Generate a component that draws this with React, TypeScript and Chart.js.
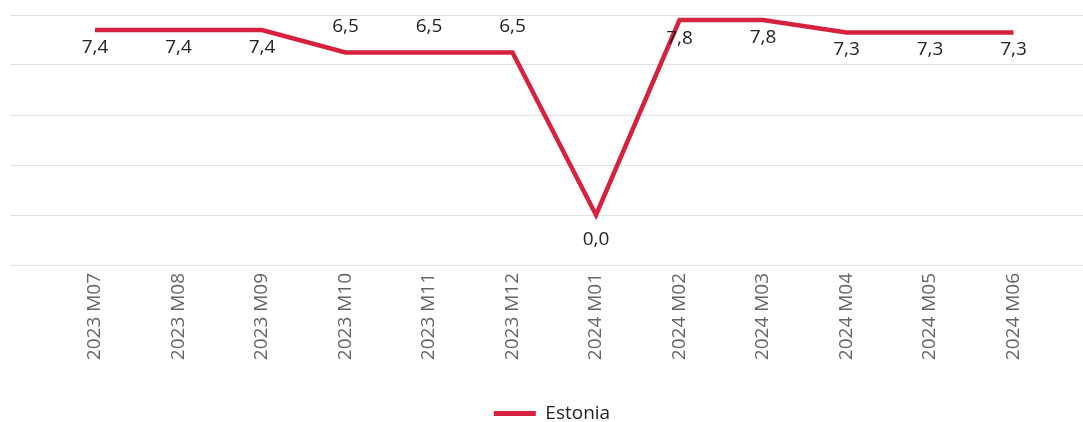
import React, { useEffect, useRef } from "react";
import { Chart, registerables } from "chart.js";

Chart.register(...registerables);

const categories: string[] = [
  "2023 M07", "2023 M08", "2023 M09", "2023 M10", "2023 M11", "2023 M12",
  "2024 M01", "2024 M02", "2024 M03", "2024 M04", "2024 M05", "2024 M06",
];
const seriesName = "Estonia";
const estoniaValues: number[] = [7.4, 7.4, 7.4, 6.5, 6.5, 6.5, 0.0, 7.8, 7.8, 7.3, 7.3, 7.3];
const yTicks: number[] = [-2, 0, 2, 4, 6, 8];

// style: vertical offset of each data label from its point (px)
const labelOffsets: number[] = [16, 16, 16, -27, -27, -27, 23, 17, 16, 16, 16, 16];

const RED = "#D6223F";
const FONT = "'Open Sans', 'Noto Sans', sans-serif";
const FS = 19;

const dataLabelPlugin = {
  id: "dataLabels",
  afterDatasetsDraw(chart: any) {
    const meta = chart.getDatasetMeta(0);
    const ctx = chart.ctx;
    ctx.save();
    ctx.font = `${FS}px ${FONT}`;
    ctx.fillStyle = "#252423";
    ctx.textAlign = "center";
    ctx.textBaseline = "alphabetic";
    meta.data.forEach((el: any, i: number) => {
      const v = estoniaValues[i];
      const txt = v.toFixed(1).replace(".", ",");
      const cy = el.y + labelOffsets[i];
      ctx.fillText(txt, el.x, cy + 0.357 * FS);
    });
    ctx.restore();
  },
};

export default function App() {
  const ref = useRef<HTMLCanvasElement>(null);
  useEffect(() => {
    if (!ref.current) return;
    Chart.defaults.font.family = FONT;
    const chart = new Chart(ref.current, {
      type: "line",
      data: {
        datasets: [
          {
            label: seriesName,
            data: estoniaValues.map((v, i) => ({ x: i, y: v })),
            borderColor: RED,
            backgroundColor: RED,
            borderWidth: 4.5,
            pointRadius: 0,
            pointHoverRadius: 0,
            tension: 0,
            fill: false,
          },
        ],
      },
      options: {
        responsive: false,
        animation: false,
        devicePixelRatio: 1,
        layout: { padding: { left: 10, right: 0, top: 15, bottom: 4 } },
        scales: {
          x: {
            type: "linear",
            min: -1.018,
            max: 11.832,
            grid: { display: false },
            border: { display: false },
            afterBuildTicks: (scale: any) => {
              scale.ticks = categories.map((_, i) => ({ value: i }));
            },
            afterFit: (scale: any) => {
              scale.height = 135;
            },
            ticks: {
              autoSkip: false,
              minRotation: 90,
              maxRotation: 90,
              padding: 0,
              color: "#666666",
              font: { size: FS, family: FONT },
              callback: (v: any) => categories[Math.round(Number(v))] ?? "",
            },
          },
          y: {
            position: "right",
            min: yTicks[0],
            max: yTicks[yTicks.length - 1],
            afterBuildTicks: (scale: any) => {
              scale.ticks = yTicks.map((v) => ({ value: v }));
            },
            afterFit: (scale: any) => {
              scale.width = 11;
            },
            grid: { color: "#e1e1e1", lineWidth: 1, drawTicks: false },
            border: { display: false },
            ticks: { display: false },
          },
        },
        plugins: {
          tooltip: { enabled: false },
          legend: {
            display: true,
            position: "bottom",
            labels: {
              boxWidth: 42,
              boxHeight: 5,
              padding: 4,
              color: "#252423",
              font: { size: FS, family: FONT },
              generateLabels: (c: any) =>
                Chart.defaults.plugins.legend.labels.generateLabels(c).map((l: any) => ({
                  ...l,
                  lineWidth: 0,
                  fillStyle: RED,
                  strokeStyle: RED,
                })),
            },
          },
        },
      },
      plugins: [dataLabelPlugin],
    } as any);
    return () => chart.destroy();
  }, []);

  return (
    <div style={{ position: "absolute", left: 0, top: 0, width: 1083, height: 422, overflow: "hidden", background: "#fff" }}>
      <canvas ref={ref} width={1094} height={437} style={{ position: "absolute", left: 0, top: 0, width: 1094, height: 437 }} />
    </div>
  );
}
